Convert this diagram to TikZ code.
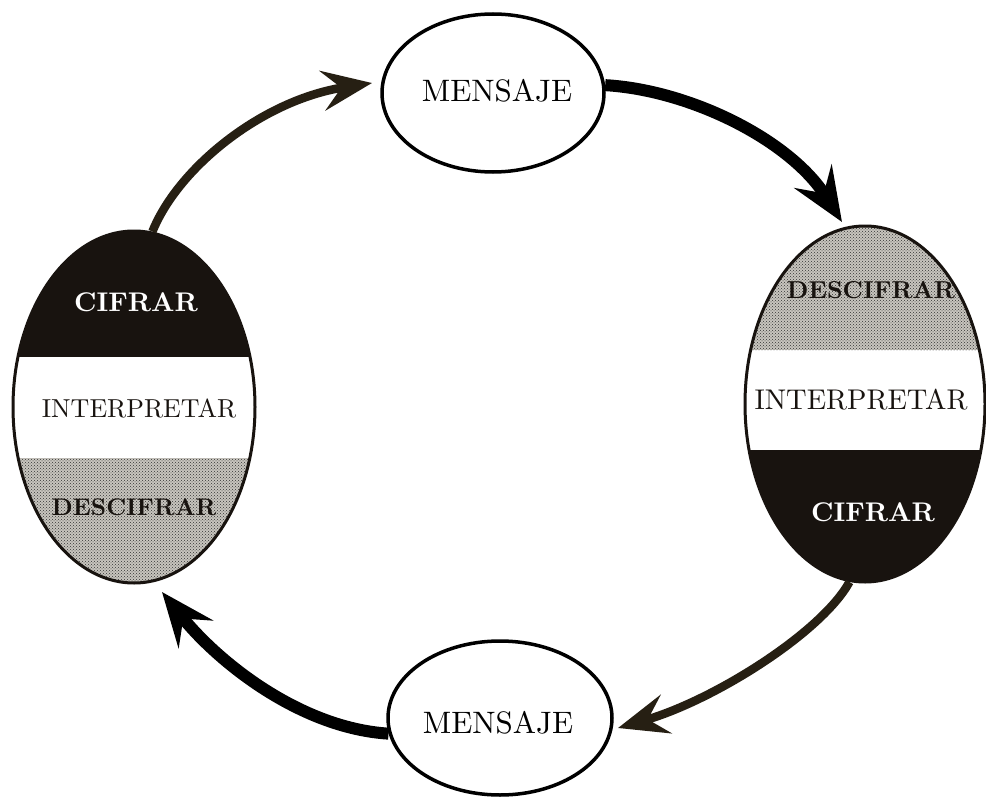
\documentclass[tikz,border=0pt]{standalone}
\usepackage{fontspec}
\setmainfont{lmroman10-regular}[Extension=.otf, BoldFont=lmroman10-bold]
\usetikzlibrary{arrows.meta,patterns,shapes.geometric}
\definecolor{ink}{RGB}{24,19,15}
\definecolor{brownink}{RGB}{38,31,19}
\definecolor{dotbg}{RGB}{200,197,190}
\begin{document}
\begin{tikzpicture}[x=1pt,y=-1pt,
  msg/.style={ellipse, draw=black, line width=3.5pt, minimum width=222pt, minimum height=158pt, inner sep=0pt},
  egg/.style={ellipse, draw=ink, line width=3pt, minimum width=242pt, minimum height=352pt, inner sep=0pt},
  big/.style={font=\fontsize{31}{31}\selectfont, text=black},
  mid/.style={font=\fontsize{26}{26}\selectfont, text=ink},
  cif/.style={font=\fontsize{27}{27}\bfseries\selectfont, text=white},
  desc/.style={font=\fontsize{24}{24}\bfseries\selectfont, text=ink},
  blackarrow/.style={draw=black, line width=12pt, -{Stealth[length=54pt, width=44pt, inset=20pt]}},
  brownarrow/.style={draw=brownink, line width=8.5pt, -{Stealth[length=50pt, width=40pt, inset=19pt]}},
  dotted band/.style={fill=dotbg, postaction={pattern=crosshatch dots, pattern color=black!80}}
]
\useasboundingbox (0,0) rectangle (986,800);
\fill[white] (0,0) rectangle (986,800);

% left egg bands
\begin{scope}
  \clip (134,407) ellipse [x radius=121, y radius=176];
  \fill[ink] (0,200) rectangle (300,357);
  \path[dotted band] (0,458) rectangle (300,600);
\end{scope}
% right egg bands
\begin{scope}
  \clip (865,404) ellipse [x radius=120, y radius=178];
  \path[dotted band] (700,200) rectangle (1000,350);
  \fill[ink] (700,450) rectangle (1000,600);
\end{scope}

\node[egg] (L) at (134,407) {};
\node[egg, minimum width=240pt, minimum height=356pt] (R) at (865,404) {};
\node[msg] (T) at (493,93) {};
\node[msg, minimum width=224pt, minimum height=154pt] (B) at (500,718) {};

\node[big] (Tt) at (497,91) {MENSAJE};
\node[big] (Bt) at (498,723) {MENSAJE};

\node[cif] (Lc) at (136,302) {CIFRAR};
\node[mid] (Li) at (139,408) {INTERPRETAR};
\node[desc] (Ld) at (134,507) {DESCIFRAR};

\node[desc, font=\fontsize{24.5}{24.5}\bfseries\selectfont] (Rd) at (871,290) {DESCIFRAR};
\node[mid, font=\fontsize{28.5}{28.5}\selectfont] (Ri) at (861,400) {INTERPRETAR};
\node[cif] (Rc) at (873,512) {CIFRAR};

\coordinate (t1) at (372,83);
\coordinate (t2) at (842,222);
\coordinate (t3) at (618,728);
\coordinate (t4) at (162,592);

\draw[brownarrow] (L.84) .. controls (178,168) and (262,100) .. (t1);
\draw[blackarrow] (T.4) .. controls (690,90) and (790,140) .. (t2);
\draw[brownarrow] (R.-95) .. controls (822,632) and (715,700) .. (t3);
\draw[blackarrow] (B.188) .. controls (300,728) and (218,662) .. (t4);
\end{tikzpicture}
\end{document}
